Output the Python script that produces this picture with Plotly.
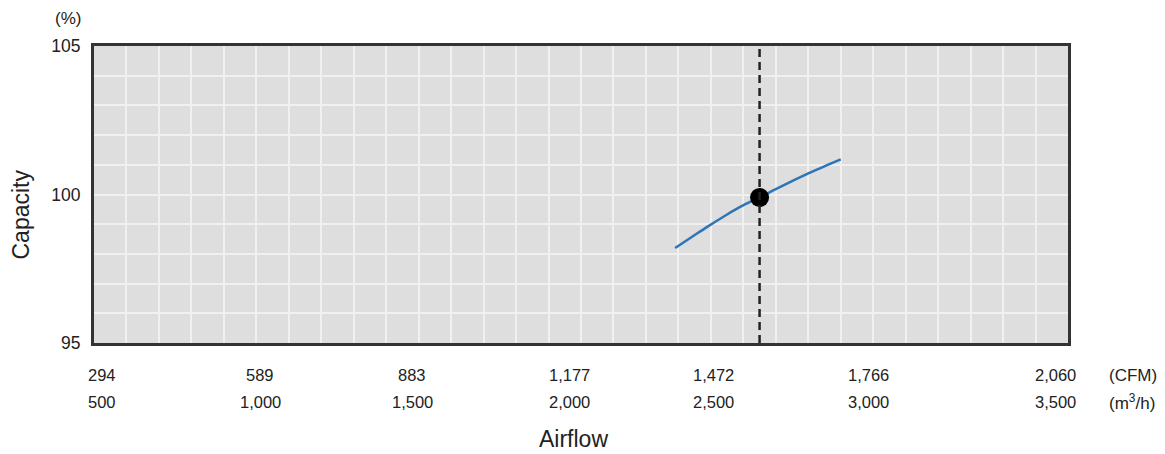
import plotly.graph_objects as go

# ---- data ----
airflow_m3h_range = [500, 3500]
airflow_cfm_labels = ["294", "589", "883", "1,177", "1,472", "1,766", "2,060"]
airflow_m3h_labels = ["500", "1,000", "1,500", "2,000", "2,500", "3,000", "3,500"]
capacity_ticks = [95, 100, 105]

curve_airflow = [2290, 2340, 2390, 2440, 2490, 2550, 2600, 2650, 2700, 2750, 2800]
curve_capacity = [98.2, 98.56, 98.92, 99.26, 99.58, 99.9, 100.18, 100.45, 100.71, 100.95, 101.18]

op_airflow = 2550
op_capacity = 99.9

# ---- layout constants ----
W, H = 1165, 454
ML, MR, MT, MB = 94, 97, 46, 111
PW = W - ML - MR
# horizontal centres (px) of the label table columns under the chart
label_centers_px = [102, 260, 412, 569, 713, 868, 1055]

FONT = "Liberation Sans, Arial, sans-serif"
TXT = "#222222"

fig = go.Figure()

fig.add_trace(go.Scatter(
    x=curve_airflow, y=curve_capacity, mode="lines",
    line=dict(color="#2e75b6", width=2.5, shape="spline"),
    hoverinfo="skip", showlegend=False,
))
fig.add_trace(go.Scatter(
    x=[op_airflow], y=[op_capacity], mode="markers",
    marker=dict(color="black", size=19),
    hoverinfo="skip", showlegend=False,
))

fig.add_shape(type="line", xref="x", yref="paper",
              x0=op_airflow, x1=op_airflow, y0=0, y1=1,
              line=dict(color="#222222", width=2.5, dash="8px,5px"), layer="above")

annotations = []
for cx, cfm, m3h in zip(label_centers_px, airflow_cfm_labels, airflow_m3h_labels):
    px = (cx - ML) / PW
    annotations.append(dict(text=cfm, xref="paper", yref="paper", x=px, y=0, yshift=-32,
                            showarrow=False, xanchor="center", yanchor="middle",
                            font=dict(size=16.5, color=TXT)))
    annotations.append(dict(text=m3h, xref="paper", yref="paper", x=px, y=0, yshift=-59,
                            showarrow=False, xanchor="center", yanchor="middle",
                            font=dict(size=16.5, color=TXT)))

annotations += [
    dict(text="(%)", xref="paper", yref="paper", x=(68 - ML) / PW, y=1.0, yshift=28,
         showarrow=False, xanchor="center", yanchor="middle",
         font=dict(size=17, color=TXT)),
    dict(text="(CFM)", xref="paper", yref="paper", x=(1107 - ML) / PW, y=0, yshift=-32,
         showarrow=False, xanchor="left", yanchor="middle",
         font=dict(size=17, color=TXT)),
    dict(text="(m<sup>3</sup>/h)", xref="paper", yref="paper", x=(1107 - ML) / PW, y=0, yshift=-59,
         showarrow=False, xanchor="left", yanchor="middle",
         font=dict(size=17, color=TXT)),
    dict(text="Airflow", xref="paper", yref="paper", x=(573 - ML) / PW, y=0, yshift=-96,
         showarrow=False, xanchor="center", yanchor="middle",
         font=dict(size=23, color=TXT)),
    dict(text="Capacity", xref="paper", yref="paper", x=(20 - ML) / PW, y=0.5, yshift=-20,
         showarrow=False, xanchor="center", yanchor="middle", textangle=-90,
         font=dict(size=23, color=TXT)),
]

grid = "#f0f0f0"
fig.update_layout(
    width=W, height=H,
    margin=dict(l=ML, r=MR, t=MT, b=MB),
    paper_bgcolor="white", plot_bgcolor="#dedede",
    font=dict(family=FONT, color=TXT),
    xaxis=dict(
        range=airflow_m3h_range, dtick=500, tick0=500,
        showgrid=True, gridcolor=grid, gridwidth=2,
        minor=dict(dtick=100, tick0=500, showgrid=True, gridcolor=grid, gridwidth=2),
        showline=True, linecolor="#333333", linewidth=3, mirror=True,
        ticks="", showticklabels=False,
        zeroline=False, fixedrange=True,
    ),
    yaxis=dict(
        range=[95, 105], tickvals=capacity_ticks,
        showgrid=True, gridcolor=grid, gridwidth=2,
        minor=dict(dtick=1, tick0=95, showgrid=True, gridcolor=grid, gridwidth=2),
        showline=True, linecolor="#333333", linewidth=3, mirror=True,
        ticks="", tickfont=dict(size=17.5, color=TXT), ticklabelstandoff=7,
        zeroline=False, fixedrange=True,
    ),
    annotations=annotations,
)

fig.write_html("out.html", config={"displayModeBar": False},
               post_script="document.body.style.margin='0';document.body.style.overflow='hidden';")
